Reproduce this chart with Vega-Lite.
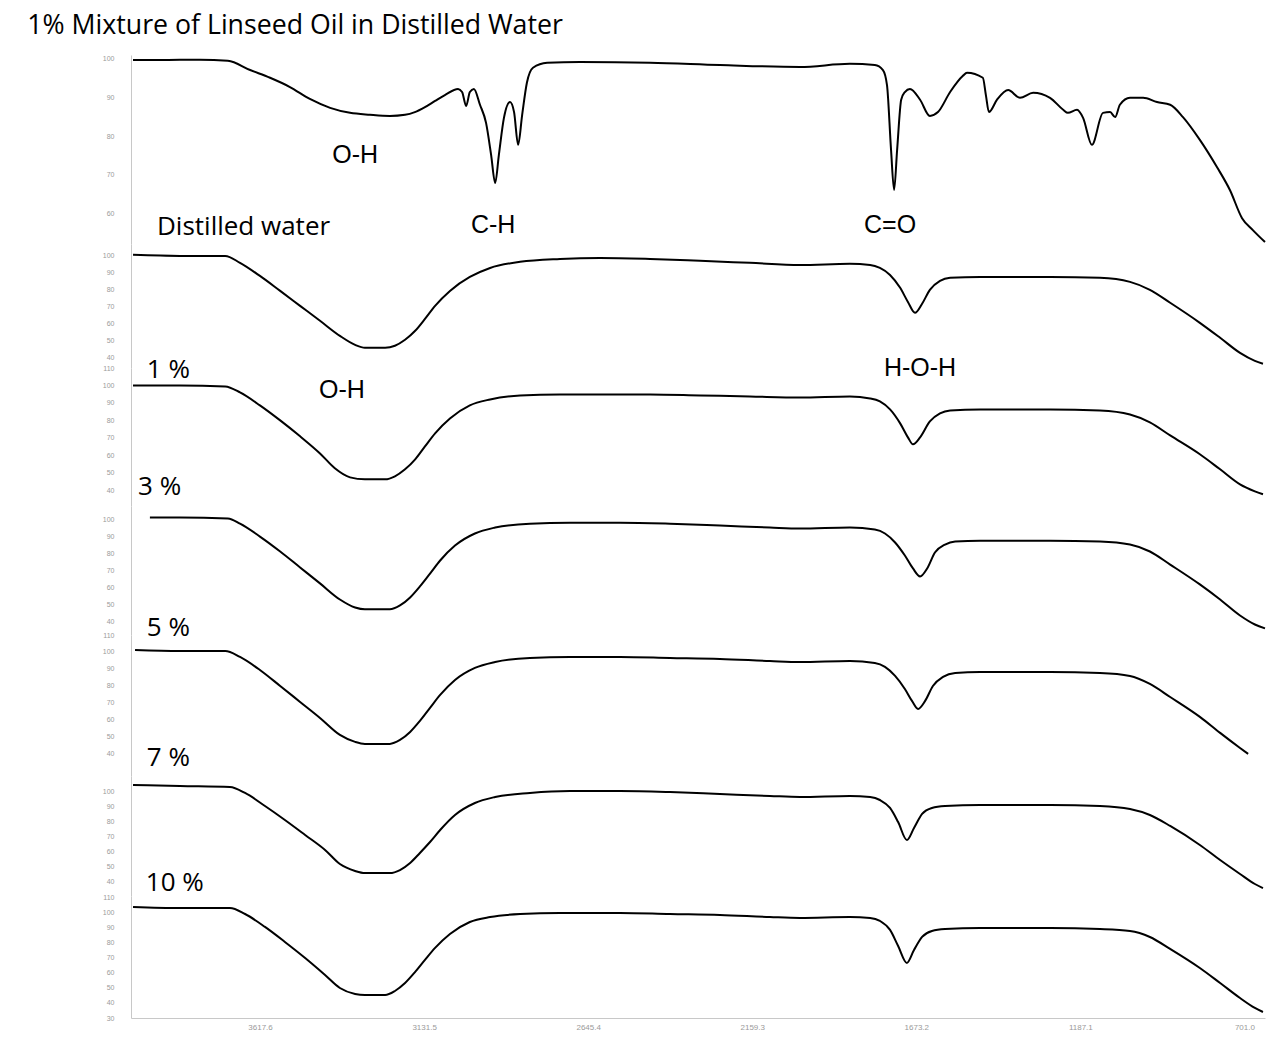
{
"$schema": "https://vega.github.io/schema/vega-lite/v6.json",
"background": "white",
"padding": {"left": 27, "top": 13, "right": 20, "bottom": 8},
"title": {"text": "1% Mixture of Linseed Oil in Distilled Water", "anchor": "start", "font": "Open Sans", "fontSize": 26.7, "fontWeight": "normal", "color": "#000000", "dx": -75, "offset": 15},
"spacing": 0,
"bounds": "flush",
"config": {
  "view": {"stroke": null},
  "axis": {"grid": false, "ticks": false, "domainColor": "#c8c8c8", "labelColor": "#9a9a9a", "labelFont": "Liberation Sans", "labelFontSize": 7, "title": null, "labelPadding": 17, "labelOverlap": false},
  "line": {"color": "#000000", "strokeWidth": 2, "interpolate": "monotone"},
  "text": {"color": "#000000", "baseline": "middle"}
},
"datasets": {
"ir": [
{"s":"Linseed oil","wn":3994,"t":99.7},{"s":"Linseed oil","wn":3914,"t":99.7},{"s":"Linseed oil","wn":3796,"t":99.8},{"s":"Linseed oil","wn":3713,"t":99.5},{"s":"Linseed oil","wn":3647,"t":97.1},{"s":"Linseed oil","wn":3588,"t":95.1},{"s":"Linseed oil","wn":3529,"t":92.7},{"s":"Linseed oil","wn":3470,"t":89.6},{"s":"Linseed oil","wn":3410,"t":87.3},{"s":"Linseed oil","wn":3351,"t":86.0},{"s":"Linseed oil","wn":3292,"t":85.5},{"s":"Linseed oil","wn":3233,"t":85.2},{"s":"Linseed oil","wn":3188,"t":85.5},{"s":"Linseed oil","wn":3159,"t":86.2},{"s":"Linseed oil","wn":3129,"t":87.5},{"s":"Linseed oil","wn":3099,"t":89.1},{"s":"Linseed oil","wn":3070,"t":90.6},{"s":"Linseed oil","wn":3031,"t":92.2},{"s":"Linseed oil","wn":3019,"t":91.4},{"s":"Linseed oil","wn":3007,"t":87.8},{"s":"Linseed oil","wn":2996,"t":91.4},{"s":"Linseed oil","wn":2984,"t":92.2},{"s":"Linseed oil","wn":2966,"t":88.1},{"s":"Linseed oil","wn":2948,"t":83.4},{"s":"Linseed oil","wn":2933,"t":75.1},{"s":"Linseed oil","wn":2921,"t":67.8},{"s":"Linseed oil","wn":2910,"t":75.1},{"s":"Linseed oil","wn":2895,"t":84.7},{"s":"Linseed oil","wn":2877,"t":88.8},{"s":"Linseed oil","wn":2865,"t":86.2},{"s":"Linseed oil","wn":2853,"t":77.7},{"s":"Linseed oil","wn":2841,"t":85.5},{"s":"Linseed oil","wn":2827,"t":93.8},{"s":"Linseed oil","wn":2809,"t":97.7},{"s":"Linseed oil","wn":2767,"t":99.0},{"s":"Linseed oil","wn":2670,"t":99.2},{"s":"Linseed oil","wn":2462,"t":99.0},{"s":"Linseed oil","wn":2255,"t":98.4},{"s":"Linseed oil","wn":2018,"t":97.9},{"s":"Linseed oil","wn":1870,"t":98.7},{"s":"Linseed oil","wn":1796,"t":98.4},{"s":"Linseed oil","wn":1772,"t":97.1},{"s":"Linseed oil","wn":1760,"t":93.2},{"s":"Linseed oil","wn":1748,"t":76.4},{"s":"Linseed oil","wn":1739,"t":66.0},{"s":"Linseed oil","wn":1730,"t":76.4},{"s":"Linseed oil","wn":1718,"t":89.4},{"s":"Linseed oil","wn":1707,"t":91.4},{"s":"Linseed oil","wn":1692,"t":92.2},{"s":"Linseed oil","wn":1662,"t":89.4},{"s":"Linseed oil","wn":1633,"t":85.2},{"s":"Linseed oil","wn":1609,"t":86.2},{"s":"Linseed oil","wn":1573,"t":91.4},{"s":"Linseed oil","wn":1535,"t":95.6},{"s":"Linseed oil","wn":1523,"t":96.4},{"s":"Linseed oil","wn":1476,"t":95.1},{"s":"Linseed oil","wn":1467,"t":90.6},{"s":"Linseed oil","wn":1458,"t":86.2},{"s":"Linseed oil","wn":1434,"t":89.4},{"s":"Linseed oil","wn":1401,"t":91.9},{"s":"Linseed oil","wn":1366,"t":89.9},{"s":"Linseed oil","wn":1327,"t":91.2},{"s":"Linseed oil","wn":1277,"t":89.9},{"s":"Linseed oil","wn":1238,"t":86.8},{"s":"Linseed oil","wn":1224,"t":86.0},{"s":"Linseed oil","wn":1197,"t":86.8},{"s":"Linseed oil","wn":1179,"t":84.7},{"s":"Linseed oil","wn":1153,"t":77.7},{"s":"Linseed oil","wn":1120,"t":86.0},{"s":"Linseed oil","wn":1099,"t":86.2},{"s":"Linseed oil","wn":1084,"t":84.9},{"s":"Linseed oil","wn":1070,"t":88.1},{"s":"Linseed oil","wn":1040,"t":89.9},{"s":"Linseed oil","wn":1001,"t":89.9},{"s":"Linseed oil","wn":960,"t":88.8},{"s":"Linseed oil","wn":921,"t":88.1},{"s":"Linseed oil","wn":883,"t":84.9},{"s":"Linseed oil","wn":833,"t":79.0},{"s":"Linseed oil","wn":782,"t":71.9},{"s":"Linseed oil","wn":744,"t":66.0},{"s":"Linseed oil","wn":708,"t":58.7},{"s":"Linseed oil","wn":676,"t":55.6},{"s":"Linseed oil","wn":640,"t":52.5},

{"s":"Distilled water","wn":3994,"t":100.6},{"s":"Distilled water","wn":3855,"t":100},{"s":"Distilled water","wn":3721,"t":100},{"s":"Distilled water","wn":3677,"t":95.9},{"s":"Distilled water","wn":3618,"t":88.2},{"s":"Distilled water","wn":3558,"t":79.4},{"s":"Distilled water","wn":3499,"t":70.6},{"s":"Distilled water","wn":3440,"t":61.8},{"s":"Distilled water","wn":3381,"t":52.9},{"s":"Distilled water","wn":3336,"t":47.6},{"s":"Distilled water","wn":3307,"t":45.9},{"s":"Distilled water","wn":3247,"t":45.9},{"s":"Distilled water","wn":3218,"t":47.1},{"s":"Distilled water","wn":3188,"t":50.6},{"s":"Distilled water","wn":3158,"t":55.9},{"s":"Distilled water","wn":3129,"t":62.9},{"s":"Distilled water","wn":3099,"t":70.6},{"s":"Distilled water","wn":3055,"t":79.4},{"s":"Distilled water","wn":2996,"t":87.6},{"s":"Distilled water","wn":2936,"t":92.9},{"s":"Distilled water","wn":2847,"t":96.5},{"s":"Distilled water","wn":2729,"t":98.2},{"s":"Distilled water","wn":2610,"t":98.8},{"s":"Distilled water","wn":2462,"t":98.2},{"s":"Distilled water","wn":2314,"t":97.1},{"s":"Distilled water","wn":2166,"t":95.9},{"s":"Distilled water","wn":2018,"t":94.7},{"s":"Distilled water","wn":1870,"t":95.3},{"s":"Distilled water","wn":1810,"t":94.7},{"s":"Distilled water","wn":1781,"t":92.9},{"s":"Distilled water","wn":1751,"t":88.8},{"s":"Distilled water","wn":1721,"t":81.2},{"s":"Distilled water","wn":1698,"t":72.9},{"s":"Distilled water","wn":1677,"t":66.5},{"s":"Distilled water","wn":1656,"t":71.8},{"s":"Distilled water","wn":1633,"t":80.0},{"s":"Distilled water","wn":1603,"t":85.3},{"s":"Distilled water","wn":1573,"t":87.1},{"s":"Distilled water","wn":1484,"t":87.6},{"s":"Distilled water","wn":1277,"t":87.6},{"s":"Distilled water","wn":1129,"t":87.1},{"s":"Distilled water","wn":1040,"t":84.7},{"s":"Distilled water","wn":981,"t":80.0},{"s":"Distilled water","wn":921,"t":72.4},{"s":"Distilled water","wn":833,"t":60.6},{"s":"Distilled water","wn":773,"t":51.8},{"s":"Distilled water","wn":714,"t":42.9},{"s":"Distilled water","wn":670,"t":38.2},{"s":"Distilled water","wn":646,"t":36.5},

{"s":"1%","wn":3994,"t":100},{"s":"1%","wn":3855,"t":100},{"s":"1%","wn":3721,"t":99.4},{"s":"1%","wn":3677,"t":96.0},{"s":"1%","wn":3618,"t":88.6},{"s":"1%","wn":3558,"t":80.0},{"s":"1%","wn":3499,"t":70.9},{"s":"1%","wn":3440,"t":61.1},{"s":"1%","wn":3396,"t":52.6},{"s":"1%","wn":3351,"t":47.4},{"s":"1%","wn":3307,"t":46.3},{"s":"1%","wn":3247,"t":46.3},{"s":"1%","wn":3218,"t":48.0},{"s":"1%","wn":3188,"t":52.0},{"s":"1%","wn":3158,"t":57.7},{"s":"1%","wn":3129,"t":65.1},{"s":"1%","wn":3099,"t":72.6},{"s":"1%","wn":3055,"t":81.1},{"s":"1%","wn":2996,"t":88.6},{"s":"1%","wn":2936,"t":92.0},{"s":"1%","wn":2847,"t":94.3},{"s":"1%","wn":2729,"t":94.9},{"s":"1%","wn":2610,"t":94.9},{"s":"1%","wn":2462,"t":94.9},{"s":"1%","wn":2314,"t":94.3},{"s":"1%","wn":2166,"t":93.7},{"s":"1%","wn":2018,"t":93.1},{"s":"1%","wn":1870,"t":93.7},{"s":"1%","wn":1810,"t":92.6},{"s":"1%","wn":1781,"t":90.9},{"s":"1%","wn":1751,"t":86.3},{"s":"1%","wn":1721,"t":78.3},{"s":"1%","wn":1698,"t":70.3},{"s":"1%","wn":1683,"t":66.3},{"s":"1%","wn":1662,"t":70.3},{"s":"1%","wn":1633,"t":79.4},{"s":"1%","wn":1603,"t":84.0},{"s":"1%","wn":1573,"t":85.7},{"s":"1%","wn":1484,"t":86.3},{"s":"1%","wn":1277,"t":86.3},{"s":"1%","wn":1129,"t":85.7},{"s":"1%","wn":1040,"t":83.4},{"s":"1%","wn":981,"t":78.9},{"s":"1%","wn":921,"t":71.4},{"s":"1%","wn":833,"t":60.6},{"s":"1%","wn":773,"t":52.0},{"s":"1%","wn":714,"t":43.4},{"s":"1%","wn":670,"t":39.4},{"s":"1%","wn":646,"t":37.7},

{"s":"3%","wn":3944,"t":101.2},{"s":"3%","wn":3855,"t":101.2},{"s":"3%","wn":3713,"t":100.6},{"s":"3%","wn":3677,"t":97.6},{"s":"3%","wn":3618,"t":90.0},{"s":"3%","wn":3558,"t":81.2},{"s":"3%","wn":3499,"t":71.8},{"s":"3%","wn":3440,"t":62.4},{"s":"3%","wn":3381,"t":52.9},{"s":"3%","wn":3336,"t":48.2},{"s":"3%","wn":3307,"t":47.1},{"s":"3%","wn":3233,"t":47.1},{"s":"3%","wn":3203,"t":49.4},{"s":"3%","wn":3173,"t":54.1},{"s":"3%","wn":3144,"t":60.6},{"s":"3%","wn":3114,"t":68.2},{"s":"3%","wn":3084,"t":75.9},{"s":"3%","wn":3040,"t":84.7},{"s":"3%","wn":2981,"t":91.8},{"s":"3%","wn":2921,"t":95.3},{"s":"3%","wn":2818,"t":97.6},{"s":"3%","wn":2699,"t":98.2},{"s":"3%","wn":2551,"t":98.2},{"s":"3%","wn":2403,"t":97.6},{"s":"3%","wn":2255,"t":96.5},{"s":"3%","wn":2107,"t":95.3},{"s":"3%","wn":2018,"t":94.7},{"s":"3%","wn":1870,"t":95.3},{"s":"3%","wn":1796,"t":94.1},{"s":"3%","wn":1766,"t":91.8},{"s":"3%","wn":1736,"t":86.5},{"s":"3%","wn":1707,"t":78.8},{"s":"3%","wn":1683,"t":71.2},{"s":"3%","wn":1662,"t":66.5},{"s":"3%","wn":1641,"t":71.2},{"s":"3%","wn":1618,"t":80.6},{"s":"3%","wn":1588,"t":85.3},{"s":"3%","wn":1558,"t":87.1},{"s":"3%","wn":1484,"t":87.6},{"s":"3%","wn":1277,"t":87.6},{"s":"3%","wn":1129,"t":87.1},{"s":"3%","wn":1040,"t":85.3},{"s":"3%","wn":981,"t":81.2},{"s":"3%","wn":921,"t":73.5},{"s":"3%","wn":833,"t":61.8},{"s":"3%","wn":773,"t":52.9},{"s":"3%","wn":714,"t":43.5},{"s":"3%","wn":670,"t":38.2},{"s":"3%","wn":640,"t":35.9},

{"s":"5%","wn":3988,"t":101.2},{"s":"5%","wn":3855,"t":100.6},{"s":"5%","wn":3721,"t":100.6},{"s":"5%","wn":3677,"t":97.1},{"s":"5%","wn":3618,"t":89.4},{"s":"5%","wn":3558,"t":80.0},{"s":"5%","wn":3499,"t":70.6},{"s":"5%","wn":3440,"t":61.2},{"s":"5%","wn":3381,"t":51.2},{"s":"5%","wn":3336,"t":47.1},{"s":"5%","wn":3307,"t":45.9},{"s":"5%","wn":3233,"t":45.9},{"s":"5%","wn":3203,"t":48.2},{"s":"5%","wn":3173,"t":52.9},{"s":"5%","wn":3144,"t":59.4},{"s":"5%","wn":3114,"t":67.1},{"s":"5%","wn":3084,"t":74.7},{"s":"5%","wn":3040,"t":83.5},{"s":"5%","wn":2981,"t":90.6},{"s":"5%","wn":2921,"t":94.1},{"s":"5%","wn":2818,"t":96.5},{"s":"5%","wn":2699,"t":97.1},{"s":"5%","wn":2551,"t":97.1},{"s":"5%","wn":2403,"t":96.5},{"s":"5%","wn":2255,"t":95.9},{"s":"5%","wn":2107,"t":94.7},{"s":"5%","wn":2018,"t":94.1},{"s":"5%","wn":1870,"t":94.7},{"s":"5%","wn":1796,"t":93.5},{"s":"5%","wn":1766,"t":91.2},{"s":"5%","wn":1736,"t":85.9},{"s":"5%","wn":1707,"t":78.2},{"s":"5%","wn":1686,"t":71.2},{"s":"5%","wn":1668,"t":66.5},{"s":"5%","wn":1647,"t":71.2},{"s":"5%","wn":1624,"t":80.0},{"s":"5%","wn":1594,"t":85.3},{"s":"5%","wn":1558,"t":87.6},{"s":"5%","wn":1484,"t":88.2},{"s":"5%","wn":1277,"t":88.2},{"s":"5%","wn":1129,"t":87.6},{"s":"5%","wn":1040,"t":85.9},{"s":"5%","wn":981,"t":81.2},{"s":"5%","wn":921,"t":73.5},{"s":"5%","wn":833,"t":61.8},{"s":"5%","wn":773,"t":52.4},{"s":"5%","wn":714,"t":43.5},{"s":"5%","wn":690,"t":40.0},

{"s":"7%","wn":3994,"t":104},{"s":"7%","wn":3855,"t":103.3},{"s":"7%","wn":3707,"t":102.7},{"s":"7%","wn":3662,"t":98.7},{"s":"7%","wn":3603,"t":90.0},{"s":"7%","wn":3544,"t":80.7},{"s":"7%","wn":3484,"t":70.7},{"s":"7%","wn":3425,"t":60.7},{"s":"7%","wn":3381,"t":51.3},{"s":"7%","wn":3336,"t":46.7},{"s":"7%","wn":3307,"t":45.3},{"s":"7%","wn":3233,"t":45.3},{"s":"7%","wn":3203,"t":47.3},{"s":"7%","wn":3173,"t":52.0},{"s":"7%","wn":3144,"t":58.7},{"s":"7%","wn":3114,"t":66.0},{"s":"7%","wn":3084,"t":74.0},{"s":"7%","wn":3040,"t":84.0},{"s":"7%","wn":2981,"t":92.0},{"s":"7%","wn":2921,"t":96.0},{"s":"7%","wn":2818,"t":98.7},{"s":"7%","wn":2699,"t":100},{"s":"7%","wn":2551,"t":100},{"s":"7%","wn":2403,"t":99.3},{"s":"7%","wn":2255,"t":98.0},{"s":"7%","wn":2107,"t":96.7},{"s":"7%","wn":2018,"t":96.0},{"s":"7%","wn":1870,"t":96.7},{"s":"7%","wn":1810,"t":96.0},{"s":"7%","wn":1781,"t":94.0},{"s":"7%","wn":1751,"t":88.7},{"s":"7%","wn":1727,"t":79.3},{"s":"7%","wn":1701,"t":67.3},{"s":"7%","wn":1680,"t":75.3},{"s":"7%","wn":1656,"t":84.7},{"s":"7%","wn":1627,"t":88.7},{"s":"7%","wn":1588,"t":90.0},{"s":"7%","wn":1484,"t":90.7},{"s":"7%","wn":1277,"t":90.7},{"s":"7%","wn":1129,"t":90.0},{"s":"7%","wn":1040,"t":88.0},{"s":"7%","wn":981,"t":84.0},{"s":"7%","wn":921,"t":76.7},{"s":"7%","wn":833,"t":64.0},{"s":"7%","wn":773,"t":54.0},{"s":"7%","wn":714,"t":44.7},{"s":"7%","wn":670,"t":38.0},{"s":"7%","wn":646,"t":35.3},

{"s":"10%","wn":3994,"t":104},{"s":"10%","wn":3855,"t":103.3},{"s":"10%","wn":3707,"t":103.3},{"s":"10%","wn":3662,"t":99.3},{"s":"10%","wn":3603,"t":90.7},{"s":"10%","wn":3544,"t":80.7},{"s":"10%","wn":3484,"t":70.0},{"s":"10%","wn":3425,"t":58.7},{"s":"10%","wn":3381,"t":50.0},{"s":"10%","wn":3336,"t":46.0},{"s":"10%","wn":3307,"t":45.3},{"s":"10%","wn":3247,"t":45.3},{"s":"10%","wn":3218,"t":48.0},{"s":"10%","wn":3188,"t":53.3},{"s":"10%","wn":3158,"t":60.7},{"s":"10%","wn":3129,"t":68.7},{"s":"10%","wn":3099,"t":76.7},{"s":"10%","wn":3055,"t":86.0},{"s":"10%","wn":2996,"t":94.0},{"s":"10%","wn":2936,"t":97.3},{"s":"10%","wn":2847,"t":99.3},{"s":"10%","wn":2729,"t":100},{"s":"10%","wn":2551,"t":100},{"s":"10%","wn":2403,"t":99.3},{"s":"10%","wn":2255,"t":98.7},{"s":"10%","wn":2107,"t":97.3},{"s":"10%","wn":2018,"t":96.7},{"s":"10%","wn":1870,"t":97.3},{"s":"10%","wn":1810,"t":96.7},{"s":"10%","wn":1781,"t":94.7},{"s":"10%","wn":1751,"t":88.7},{"s":"10%","wn":1727,"t":78.0},{"s":"10%","wn":1701,"t":66.7},{"s":"10%","wn":1680,"t":75.3},{"s":"10%","wn":1656,"t":84.0},{"s":"10%","wn":1627,"t":88.0},{"s":"10%","wn":1588,"t":89.3},{"s":"10%","wn":1484,"t":90.0},{"s":"10%","wn":1277,"t":90.0},{"s":"10%","wn":1129,"t":89.3},{"s":"10%","wn":1040,"t":88.0},{"s":"10%","wn":981,"t":84.0},{"s":"10%","wn":921,"t":76.0},{"s":"10%","wn":833,"t":63.3},{"s":"10%","wn":773,"t":53.3},{"s":"10%","wn":714,"t":43.3},{"s":"10%","wn":670,"t":36.7},{"s":"10%","wn":646,"t":34.0}
],
"notes": [
{"p":"Linseed oil","k":"band","label":"O-H","wn":3336,"t":75.1},
{"p":"Linseed oil","k":"band","label":"C-H","wn":2927,"t":57},
{"p":"Linseed oil","k":"band","label":"C=O","wn":1751,"t":57},
{"p":"Linseed oil","k":"sample","label":"Distilled water","wn":3923,"t":56.4},
{"p":"1%","k":"sample","label":"1 %","wn":3953,"t":108.9},
{"p":"1%","k":"band","label":"O-H","wn":3375,"t":97.4},
{"p":"1%","k":"band","label":"H-O-H","wn":1662,"t":110},
{"p":"1%","k":"sample","label":"3 %","wn":3979,"t":41.9},
{"p":"3%","k":"sample","label":"5 %","wn":3953,"t":36.2},
{"p":"5%","k":"sample","label":"7 %","wn":3953,"t":37.6},
{"p":"7%","k":"sample","label":"10 %","wn":3956,"t":38.7}
]
},
"vconcat": [
{"width": 1134, "height": 189,
 "encoding": {"x": {"field": "wn", "type": "quantitative", "scale": {"domain": [4000, 640], "nice": false, "zero": false}, "axis": null},
              "y": {"field": "t", "type": "quantitative", "scale": {"domain": [52, 101], "nice": false, "zero": false}, "axis": {"values": [60, 70, 80, 90, 100], "labelOverlap": false}}},
 "layer": [
  {"data": {"name": "ir"}, "transform": [{"filter": "datum.s === 'Linseed oil'"}], "mark": "line"},
  {"data": {"name": "notes"}, "transform": [{"filter": "datum.p === 'Linseed oil' && datum.k === 'band'"}], "mark": {"type": "text", "font": "Liberation Sans", "fontSize": 25, "align": "center"}, "encoding": {"text": {"field": "label"}}},
  {"data": {"name": "notes"}, "transform": [{"filter": "datum.p === 'Linseed oil' && datum.k === 'sample'"}], "mark": {"type": "text", "font": "Open Sans", "fontSize": 26, "align": "left"}, "encoding": {"text": {"field": "label"}}}
 ]},
{"width": 1134, "height": 124,
 "encoding": {"x": {"field": "wn", "type": "quantitative", "scale": {"domain": [4000, 640], "nice": false, "zero": false}, "axis": null},
              "y": {"field": "t", "type": "quantitative", "scale": {"domain": [34, 107], "nice": false, "zero": false}, "axis": {"values": [40, 50, 60, 70, 80, 90, 100], "labelOverlap": false}}},
 "layer": [
  {"data": {"name": "ir"}, "transform": [{"filter": "datum.s === 'Distilled water'"}], "mark": "line"}
 ]},
{"width": 1134, "height": 138,
 "encoding": {"x": {"field": "wn", "type": "quantitative", "scale": {"domain": [4000, 640], "nice": false, "zero": false}, "axis": null},
              "y": {"field": "t", "type": "quantitative", "scale": {"domain": [31, 110], "nice": false, "zero": false}, "axis": {"values": [40, 50, 60, 70, 80, 90, 100, 110], "labelOverlap": false}}},
 "layer": [
  {"data": {"name": "ir"}, "transform": [{"filter": "datum.s === '1%'"}], "mark": "line"},
  {"data": {"name": "notes"}, "transform": [{"filter": "datum.p === '1%' && datum.k === 'band'"}], "mark": {"type": "text", "font": "Liberation Sans", "fontSize": 25, "align": "center"}, "encoding": {"text": {"field": "label"}}},
  {"data": {"name": "notes"}, "transform": [{"filter": "datum.p === '1%' && datum.k === 'sample'"}], "mark": {"type": "text", "font": "Open Sans", "fontSize": 26, "align": "left"}, "encoding": {"text": {"field": "label"}}}
 ]},
{"width": 1134, "height": 129,
 "encoding": {"x": {"field": "wn", "type": "quantitative", "scale": {"domain": [4000, 640], "nice": false, "zero": false}, "axis": null},
              "y": {"field": "t", "type": "quantitative", "scale": {"domain": [32, 108], "nice": false, "zero": false}, "axis": {"values": [40, 50, 60, 70, 80, 90, 100], "labelOverlap": false}}},
 "layer": [
  {"data": {"name": "ir"}, "transform": [{"filter": "datum.s === '3%'"}], "mark": "line"},
  {"data": {"name": "notes"}, "transform": [{"filter": "datum.p === '3%'"}], "mark": {"type": "text", "font": "Open Sans", "fontSize": 26, "align": "left"}, "encoding": {"text": {"field": "label"}}}
 ]},
{"width": 1134, "height": 141,
 "encoding": {"x": {"field": "wn", "type": "quantitative", "scale": {"domain": [4000, 640], "nice": false, "zero": false}, "axis": null},
              "y": {"field": "t", "type": "quantitative", "scale": {"domain": [27, 110], "nice": false, "zero": false}, "axis": {"values": [40, 50, 60, 70, 80, 90, 100, 110], "labelOverlap": false}}},
 "layer": [
  {"data": {"name": "ir"}, "transform": [{"filter": "datum.s === '5%'"}], "mark": "line"},
  {"data": {"name": "notes"}, "transform": [{"filter": "datum.p === '5%'"}], "mark": {"type": "text", "font": "Open Sans", "fontSize": 26, "align": "left"}, "encoding": {"text": {"field": "label"}}}
 ]},
{"width": 1134, "height": 120,
 "encoding": {"x": {"field": "wn", "type": "quantitative", "scale": {"domain": [4000, 640], "nice": false, "zero": false}, "axis": null},
              "y": {"field": "t", "type": "quantitative", "scale": {"domain": [30, 110], "nice": false, "zero": false}, "axis": {"values": [40, 50, 60, 70, 80, 90, 100], "labelOverlap": false}}},
 "layer": [
  {"data": {"name": "ir"}, "transform": [{"filter": "datum.s === '7%'"}], "mark": "line"},
  {"data": {"name": "notes"}, "transform": [{"filter": "datum.p === '7%'"}], "mark": {"type": "text", "font": "Open Sans", "fontSize": 26, "align": "left"}, "encoding": {"text": {"field": "label"}}}
 ]},
{"width": 1134, "height": 122,
 "encoding": {"x": {"field": "wn", "type": "quantitative", "scale": {"domain": [4000, 640], "nice": false, "zero": false},
                    "axis": {"values": [3617.6, 3131.5, 2645.4, 2159.3, 1673.2, 1187.1, 701.0], "format": ".1f", "labelFontSize": 8, "labelPadding": 5, "labelFlush": false}},
              "y": {"field": "t", "type": "quantitative", "scale": {"domain": [30, 111.3], "nice": false, "zero": false}, "axis": {"values": [30, 40, 50, 60, 70, 80, 90, 100, 110], "labelOverlap": false}}},
 "layer": [
  {"data": {"name": "ir"}, "transform": [{"filter": "datum.s === '10%'"}], "mark": "line"}
 ]}
]
}
